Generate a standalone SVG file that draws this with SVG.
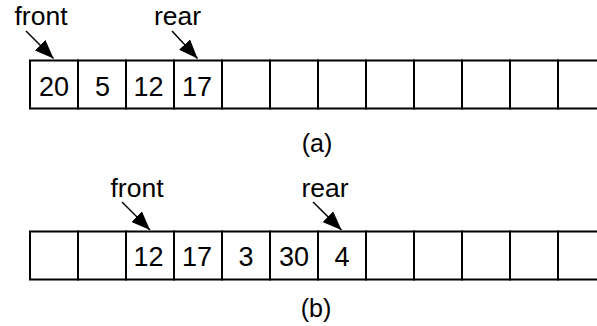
<svg xmlns="http://www.w3.org/2000/svg" width="597" height="326" viewBox="0 0 597 326">
<style>
.cell{fill:#fff;stroke:#000;stroke-width:2}
.lbl{font-family:"Liberation Sans",Arial,sans-serif;font-size:26.5px;fill:#000}
.num{font-family:"Liberation Sans",Arial,sans-serif;font-size:27px;fill:#000;text-anchor:middle}
.cap{font-family:"Liberation Sans",Arial,sans-serif;font-size:25px;fill:#000;text-anchor:middle}
.arr{stroke:#000;stroke-width:1.5;fill:none;marker-end:url(#ah)}
</style>
<defs>
<marker id="ah" markerUnits="userSpaceOnUse" markerWidth="20" markerHeight="15" refX="19" refY="7.5" orient="auto" viewBox="0 0 20 15">
<path d="M0,0 L19,7.5 L0,15 z" fill="#000"/>
</marker>
</defs>
<g id="array-a">
<rect class="cell" x="30" y="60.5" width="48" height="48"/>
<rect class="cell" x="78" y="60.5" width="48" height="48"/>
<rect class="cell" x="126" y="60.5" width="48" height="48"/>
<rect class="cell" x="174" y="60.5" width="48" height="48"/>
<rect class="cell" x="222" y="60.5" width="48" height="48"/>
<rect class="cell" x="270" y="60.5" width="48" height="48"/>
<rect class="cell" x="318" y="60.5" width="48" height="48"/>
<rect class="cell" x="366" y="60.5" width="48" height="48"/>
<rect class="cell" x="414" y="60.5" width="48" height="48"/>
<rect class="cell" x="462" y="60.5" width="48" height="48"/>
<rect class="cell" x="510" y="60.5" width="48" height="48"/>
<rect class="cell" x="558" y="60.5" width="48" height="48"/>
<text class="num" x="54" y="96">20</text>
<text class="num" x="102.5" y="96">5</text>
<text class="num" x="148.5" y="96">12</text>
<text class="num" x="197" y="96">17</text>
</g>
<g id="array-b">
<rect class="cell" x="30" y="231.5" width="48" height="48"/>
<rect class="cell" x="78" y="231.5" width="48" height="48"/>
<rect class="cell" x="126" y="231.5" width="48" height="48"/>
<rect class="cell" x="174" y="231.5" width="48" height="48"/>
<rect class="cell" x="222" y="231.5" width="48" height="48"/>
<rect class="cell" x="270" y="231.5" width="48" height="48"/>
<rect class="cell" x="318" y="231.5" width="48" height="48"/>
<rect class="cell" x="366" y="231.5" width="48" height="48"/>
<rect class="cell" x="414" y="231.5" width="48" height="48"/>
<rect class="cell" x="462" y="231.5" width="48" height="48"/>
<rect class="cell" x="510" y="231.5" width="48" height="48"/>
<rect class="cell" x="558" y="231.5" width="48" height="48"/>
<text class="num" x="148.5" y="266">12</text>
<text class="num" x="197" y="266">17</text>
<text class="num" x="246" y="266">3</text>
<text class="num" x="294" y="266">30</text>
<text class="num" x="342" y="266">4</text>
</g>
<g id="label-front-a"><text class="lbl" x="14.5" y="25">front</text></g>
<g id="label-rear-a"><text class="lbl" x="154" y="25">rear</text></g>
<g id="label-front-b"><text class="lbl" x="110.5" y="197">front</text></g>
<g id="label-rear-b"><text class="lbl" x="301.5" y="197">rear</text></g>
<g id="caption-a"><text class="cap" x="317" y="152">(a)</text></g>
<g id="caption-b"><text class="cap" x="316" y="317">(b)</text></g>
<g id="connectors">
<line class="arr" x1="26" y1="31" x2="53.5" y2="58.5"/>
<line class="arr" x1="172" y1="31" x2="197.5" y2="58.5"/>
<line class="arr" x1="122" y1="202" x2="150" y2="230"/>
<line class="arr" x1="313" y1="202" x2="341.5" y2="230"/>
</g>
</svg>
